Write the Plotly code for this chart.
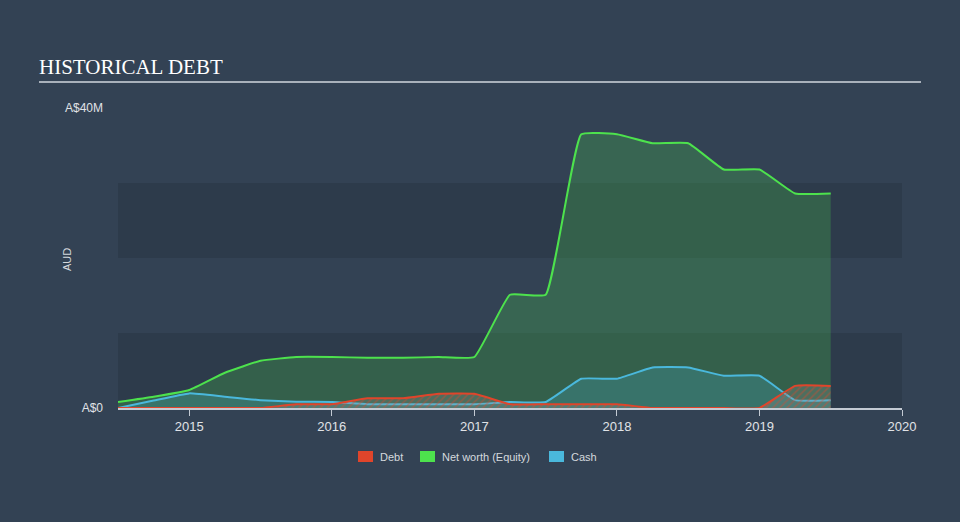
import plotly.graph_objects as go

# Data (AUD, millions) at quarterly points
dates = [2014.5, 2014.75, 2015.0, 2015.25, 2015.5, 2015.75, 2016.0, 2016.25, 2016.5, 2016.75,
         2017.0, 2017.25, 2017.5, 2017.75, 2018.0, 2018.25, 2018.5, 2018.75, 2019.0, 2019.25, 2019.5]
net_worth = [0.8, 1.5, 2.4, 4.7, 6.3, 6.8, 6.8, 6.7, 6.7, 6.8,
             6.8, 15.1, 15.1, 36.5, 36.5, 35.3, 35.3, 31.8, 31.8, 28.6, 28.6]
cash = [0.0, 1.0, 1.95, 1.5, 1.05, 0.85, 0.8, 0.5, 0.5, 0.5,
        0.5, 0.8, 0.8, 3.9, 3.9, 5.4, 5.4, 4.3, 4.3, 1.05, 1.05]
debt = [0.0, 0.0, 0.0, 0.0, 0.0, 0.5, 0.5, 1.3, 1.3, 1.9,
        1.9, 0.5, 0.5, 0.5, 0.5, 0.0, 0.0, 0.0, 0.0, 2.95, 2.95]

year_ticks = [2015, 2016, 2017, 2018, 2019, 2020]
y_tickvals = [0, 40]
y_ticktext = ["A$0", "A$40M"]
legend_names = ["Debt", "Net worth (Equity)", "Cash"]

BG = "#334254"
GREEN = "#4de24d"
CYAN = "#4ab8dc"
RED = "#e0452b"
SMOOTH = 0.35

# pixel -> paper helpers (plot area: x 118..902, y 108..408)
def px(x):
    return (x - 118) / 784

def py(y):
    return (408 - y) / 300

fig = go.Figure()

fig.add_trace(go.Scatter(x=dates, y=net_worth, mode="lines", name=legend_names[1],
                         line=dict(color=GREEN, width=2, shape="spline", smoothing=SMOOTH),
                         fill="tozeroy", fillcolor="rgba(77,226,77,0.22)", showlegend=False, hoverinfo="skip"))
fig.add_trace(go.Scatter(x=dates, y=cash, mode="lines", name=legend_names[2],
                         line=dict(color=CYAN, width=2, shape="spline", smoothing=SMOOTH),
                         fill="tozeroy", fillcolor="rgba(74,184,220,0.22)", showlegend=False, hoverinfo="skip"))
fig.add_trace(go.Scatter(x=dates, y=debt, mode="lines", name=legend_names[0],
                         line=dict(color=RED, width=2, shape="spline", smoothing=SMOOTH),
                         fill="tozeroy", fillcolor="rgba(0,0,0,0)",
                         fillpattern=dict(shape="/", fgcolor="rgba(224,69,43,0.8)", bgcolor="rgba(150,150,150,0.25)", size=5, solidity=0.3),
                         showlegend=False, hoverinfo="skip"))

shapes = [
    dict(type="rect", xref="x", yref="y", x0=2014.5, x1=2020, y0=0, y1=10,
         fillcolor="rgba(20,28,40,0.18)", line_width=0, layer="below"),
    dict(type="rect", xref="x", yref="y", x0=2014.5, x1=2020, y0=20, y1=30,
         fillcolor="rgba(20,28,40,0.18)", line_width=0, layer="below"),
    dict(type="line", xref="paper", yref="paper", x0=px(39), x1=px(921), y0=py(82), y1=py(82),
         line=dict(color="#a9b1bb", width=2)),
]
annotations = [
    dict(text="AUD", xref="paper", yref="paper", x=px(67), y=py(260), textangle=-90, showarrow=False,
         xanchor="center", yanchor="middle", font=dict(size=11, color="#d5d9de")),
]

# custom legend
legend_items = [(legend_names[0], RED, 358), (legend_names[1], GREEN, 420), (legend_names[2], CYAN, 549)]
for name, col, x0 in legend_items:
    shapes.append(dict(type="rect", xref="paper", yref="paper", x0=px(x0), x1=px(x0 + 15),
                       y0=py(462), y1=py(451), fillcolor=col, line_width=0))
    annotations.append(dict(text=name, xref="paper", yref="paper", x=px(x0 + 20), y=py(456.5),
                            xanchor="left", yanchor="middle", showarrow=False,
                            font=dict(size=11, color="#d5d9de")))

fig.update_layout(
    width=960, height=522,
    paper_bgcolor=BG, plot_bgcolor=BG,
    margin=dict(l=118, r=58, t=108, b=114),
    shapes=shapes, annotations=annotations, showlegend=False,
    font=dict(family="Liberation Sans, Arial, sans-serif", color="#d5d9de", size=12),
    title=dict(text="HISTORICAL DEBT", x=39/960, xanchor="left", y=1-67/522, yanchor="middle",
               font=dict(family="Liberation Serif, Times New Roman, serif", size=21, color="#ffffff")),
    xaxis=dict(range=[2014.5, 2020], tickvals=year_ticks, ticktext=[str(y) for y in year_ticks],
               showgrid=False, zeroline=False, showline=True, linecolor="#c3cad3", linewidth=1.5,
               ticks="outside", ticklen=6, tickcolor="#c3cad3", tickfont=dict(size=13, color="#e0e3e7")),
    yaxis=dict(range=[0, 40], tickvals=y_tickvals, ticktext=y_ticktext, showgrid=False, zeroline=False,
               showline=False, ticks="", ticklabelstandoff=14, tickfont=dict(size=12, color="#e0e3e7")),
)

fig.write_html("out.html")
